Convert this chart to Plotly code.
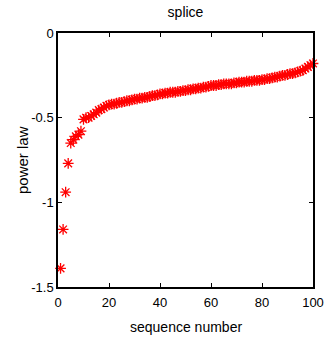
import plotly.graph_objects as go

seq = list(range(1, 101))
power_law = [
    -1.39, -1.16, -0.94, -0.77, -0.65, -0.63, -0.61, -0.60, -0.58, -0.51,
    -0.50, -0.50, -0.49, -0.48, -0.47, -0.455, -0.45, -0.44, -0.43, -0.425,
    -0.42, -0.42, -0.415, -0.41, -0.41, -0.405, -0.40, -0.40, -0.395, -0.39,
    -0.39, -0.385, -0.385, -0.38, -0.38, -0.375, -0.37, -0.37, -0.365, -0.36,
    -0.36, -0.355, -0.355, -0.35, -0.35, -0.35, -0.345, -0.345, -0.34, -0.34,
    -0.335, -0.335, -0.33, -0.33, -0.325, -0.325, -0.32, -0.32, -0.315, -0.31,
    -0.31, -0.31, -0.305, -0.305, -0.30, -0.30, -0.30, -0.30, -0.295, -0.295,
    -0.29, -0.29, -0.29, -0.285, -0.285, -0.285, -0.28, -0.28, -0.28, -0.275,
    -0.275, -0.27, -0.27, -0.265, -0.26, -0.26, -0.255, -0.25, -0.25, -0.245,
    -0.24, -0.24, -0.235, -0.23, -0.225, -0.22, -0.21, -0.20, -0.19, -0.18,
]
x_ticks = [0, 20, 40, 60, 80, 100]
y_ticks = [0, -0.5, -1, -1.5]
y_tick_text = ["0", "-0.5", "-1", "-1.5"]

font = "Arial, Liberation Sans, sans-serif"

fig = go.Figure(go.Scatter(
    x=seq, y=power_law, mode="markers",
    marker=dict(symbol="asterisk-open", size=9, color="red",
                line=dict(color="red", width=1.3)),
    cliponaxis=False,
))

axis_common = dict(
    showline=True, linecolor="black", linewidth=1.5, mirror="ticks",
    ticks="inside", ticklen=4, tickcolor="black", tickwidth=1,
    showgrid=False, zeroline=False, automargin=False,
    tickfont=dict(family=font, size=13, color="black"),
)

fig.update_layout(
    width=325, height=338,
    margin=dict(l=58, r=12, t=33, b=51),
    paper_bgcolor="white", plot_bgcolor="white",
    showlegend=False,
    title=dict(text="splice", x=0.5, xref="paper", xanchor="center",
               y=1 - 12 / 338, yref="container", yanchor="middle",
               font=dict(family=font, size=14, color="black")),
    xaxis=dict(range=[0, 100], tickvals=x_ticks, ticklabelstandoff=3,
               **axis_common),
    yaxis=dict(range=[-1.5, 0], tickvals=y_ticks, ticktext=y_tick_text,
               **axis_common),
    annotations=[
        dict(text="sequence number", xref="paper", yref="paper",
             x=0.5, y=-40 / 254, xanchor="center", yanchor="middle",
             showarrow=False, font=dict(family=font, size=14, color="black")),
        dict(text="power law", xref="paper", yref="paper",
             x=-36 / 255, y=0.5, xanchor="center", yanchor="middle",
             textangle=-90, showarrow=False,
             font=dict(family=font, size=15, color="black")),
    ],
)

fig.write_html("out.html", config={"displayModeBar": False},
               post_script="document.body.style.margin='0';")
